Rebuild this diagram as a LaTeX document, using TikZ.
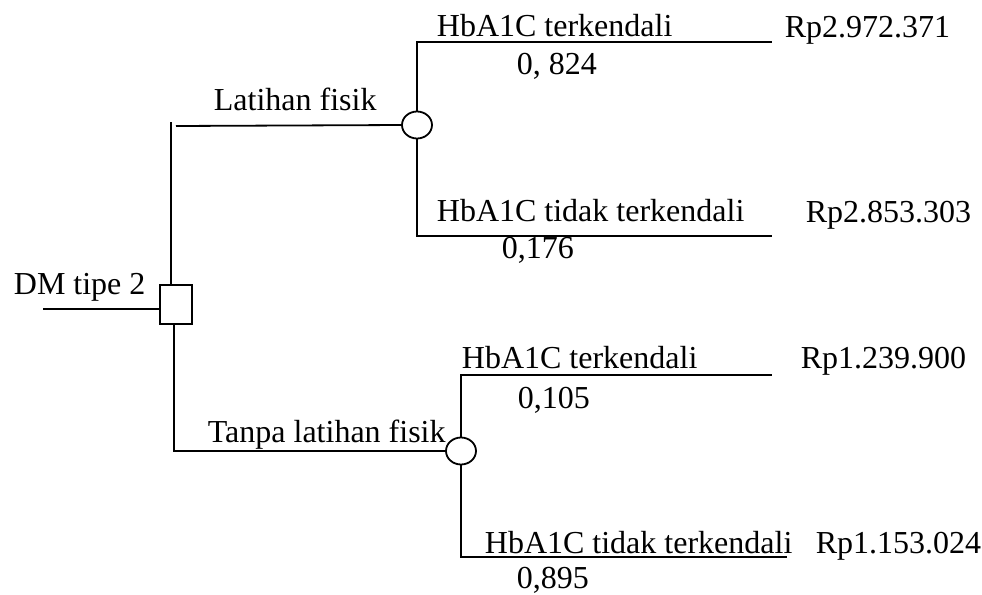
\documentclass[tikz,border=0pt]{standalone}
\usepackage{fontspec}
\setmainfont{Liberation Serif}
\usetikzlibrary{shapes.geometric}
\tikzset{decision box/.style={
        draw, minimum width=16pt, minimum height=19.5pt,
        inner sep=0pt, outer sep=0pt,
    },
    chance node/.style={
        draw, fill=white, ellipse, minimum width=15pt, minimum height=13.5pt,
        inner sep=0pt, outer sep=0pt,
    },
    tree text/.style={
        font=\fontsize{16}{19}\selectfont, inner sep=0pt, anchor=base west,
    },
}

\begin{document}
\begin{tikzpicture}[x=0.5pt, y=-0.5pt, line width=0.9pt]
    \useasboundingbox (0,0) rectangle (982,595);

    %% the nodes of the tree
        \node [decision box] at (176,304.5) (D) {};
        \node [chance node] at (417,125) (C1) {};
        \node [chance node] at (461,451) (C2) {};

    %% free ends of the lines
        \coordinate (in) at (43,309);
        \coordinate (up) at (171,122);
        \coordinate (la) at (176,126);
        \coordinate (dn) at (174,451);
        \coordinate (E1) at (772,42);
        \coordinate (E2) at (772,236);
        \coordinate (E3) at (772,375);
        \coordinate (E4) at (787,557);

    %% the branches
        \draw (in) -- (in -| D.west);
        \draw (up |- D.north) -- (up);
        \draw (la) -- (C1.west);
        \draw (dn |- D.south) -- (dn) -- (C2.west);
        \draw (C1.north) -- (C1.north |- E1) -- (E1);
        \draw (C1.south) -- (C1.south |- E2) -- (E2);
        \draw (C2.north) -- (C2.north |- E3) -- (E3);
        \draw (C2.south) -- (C2.south |- E4) -- (E4);

    %% the texts
        \node [tree text] at (13,294) (T0) {DM tipe 2};
        \node [tree text] at (213,110) (T1) {Latihan fisik};
        \node [tree text] at (207,442) (T2) {Tanpa latihan fisik};
        \node [tree text] at (436,36) (B1) {HbA1C terkendali};
        \node [tree text] at (436,221) (B2) {HbA1C tidak terkendali};
        \node [tree text] at (461,368) (B3) {HbA1C terkendali};
        \node [tree text] at (484,553) (B4) {HbA1C tidak terkendali};
    %% probabilities
        \node [tree text] at (516,74) (P1) {0, 824};
        \node [tree text] at (501,258) (P2) {0,176};
        \node [tree text] at (517,408) (P3) {0,105};
        \node [tree text] at (516,588) (P4) {0,895};
    %% costs
        \node [tree text] at (784,37) (R1) {Rp2.972.371};
        \node [tree text] at (805,222) (R2) {Rp2.853.303};
        \node [tree text] at (800,368) (R3) {Rp1.239.900};
        \node [tree text] at (815,553) (R4) {Rp1.153.024};

\end{tikzpicture}
\end{document}
